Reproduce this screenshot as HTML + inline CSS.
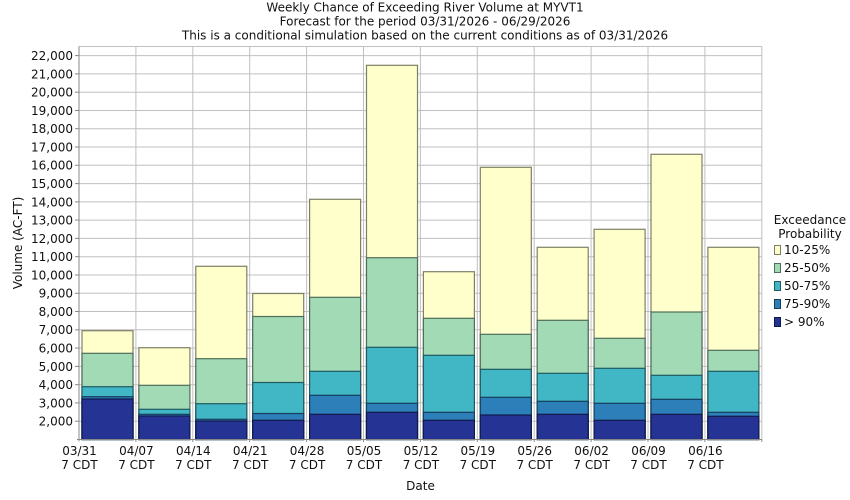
<!DOCTYPE html>
<html>
<head>
<meta charset="utf-8">
<style>
  html, body { margin: 0; padding: 0; background: #ffffff; }
  svg { display: block; }
  text { font-family: "DejaVu Sans", "Liberation Sans", sans-serif; font-size: 12px; fill: #111; }
</style>
</head>
<body>
<svg width="850" height="500" viewBox="0 0 850 500" xmlns="http://www.w3.org/2000/svg">
  <rect x="0" y="0" width="850" height="500" fill="#ffffff"/>

  <!-- Title -->
  <text x="425" y="11.5" text-anchor="middle">Weekly Chance of Exceeding River Volume at MYVT1</text>
  <text x="425" y="25.5" text-anchor="middle">Forecast for the period 03/31/2026 - 06/29/2026</text>
  <text x="425" y="39.5" text-anchor="middle">This is a conditional simulation based on the current conditions as of 03/31/2026</text>

  <!-- Plot background -->
  <rect x="79" y="46.5" width="682.8" height="393" fill="#ffffff"/>

  <!-- Horizontal gridlines -->
  <g stroke="#c0c0c0" stroke-width="1">
    <line x1="79" x2="761.8" y1="46.5" y2="46.5"/>
    <line x1="79" x2="761.8" y1="55.6" y2="55.6"/>
    <line x1="79" x2="761.8" y1="73.9" y2="73.9"/>
    <line x1="79" x2="761.8" y1="92.2" y2="92.2"/>
    <line x1="79" x2="761.8" y1="110.5" y2="110.5"/>
    <line x1="79" x2="761.8" y1="128.7" y2="128.7"/>
    <line x1="79" x2="761.8" y1="147.0" y2="147.0"/>
    <line x1="79" x2="761.8" y1="165.3" y2="165.3"/>
    <line x1="79" x2="761.8" y1="183.6" y2="183.6"/>
    <line x1="79" x2="761.8" y1="201.9" y2="201.9"/>
    <line x1="79" x2="761.8" y1="220.1" y2="220.1"/>
    <line x1="79" x2="761.8" y1="238.4" y2="238.4"/>
    <line x1="79" x2="761.8" y1="256.7" y2="256.7"/>
    <line x1="79" x2="761.8" y1="275.0" y2="275.0"/>
    <line x1="79" x2="761.8" y1="293.3" y2="293.3"/>
    <line x1="79" x2="761.8" y1="311.5" y2="311.5"/>
    <line x1="79" x2="761.8" y1="329.8" y2="329.8"/>
    <line x1="79" x2="761.8" y1="348.1" y2="348.1"/>
    <line x1="79" x2="761.8" y1="366.4" y2="366.4"/>
    <line x1="79" x2="761.8" y1="384.7" y2="384.7"/>
    <line x1="79" x2="761.8" y1="402.9" y2="402.9"/>
    <line x1="79" x2="761.8" y1="421.2" y2="421.2"/>
  </g>
  <!-- Vertical gridlines -->
  <g stroke="#c0c0c0" stroke-width="1">
    <line x1="135.9" x2="135.9" y1="46.5" y2="439.5"/>
    <line x1="192.8" x2="192.8" y1="46.5" y2="439.5"/>
    <line x1="249.7" x2="249.7" y1="46.5" y2="439.5"/>
    <line x1="306.6" x2="306.6" y1="46.5" y2="439.5"/>
    <line x1="363.5" x2="363.5" y1="46.5" y2="439.5"/>
    <line x1="420.4" x2="420.4" y1="46.5" y2="439.5"/>
    <line x1="477.3" x2="477.3" y1="46.5" y2="439.5"/>
    <line x1="534.2" x2="534.2" y1="46.5" y2="439.5"/>
    <line x1="591.1" x2="591.1" y1="46.5" y2="439.5"/>
    <line x1="648.0" x2="648.0" y1="46.5" y2="439.5"/>
    <line x1="704.9" x2="704.9" y1="46.5" y2="439.5"/>
    <line x1="761.8" x2="761.8" y1="46.5" y2="439.5"/>
  </g>

  <!-- Bars -->
  <g stroke-width="1.2">
    <!-- Bar 1 -->
    <rect x="82" y="330.7" width="51" height="108.8" fill="#ffffcc" stroke="#7f7f66"/>
    <rect x="82" y="353.3" width="51" height="86.2" fill="#a1dab4" stroke="#506d5a"/>
    <rect x="82" y="386.7" width="51" height="52.8" fill="#41b6c4" stroke="#205b62"/>
    <rect x="82" y="396.7" width="51" height="42.8" fill="#2c7fb8" stroke="#163f5c"/>
    <rect x="82" y="399.0" width="51" height="40.5" fill="#253494" stroke="#12194a"/>
    <!-- Bar 2 -->
    <rect x="138.9" y="347.7" width="51" height="91.8" fill="#ffffcc" stroke="#7f7f66"/>
    <rect x="138.9" y="385.3" width="51" height="54.2" fill="#a1dab4" stroke="#506d5a"/>
    <rect x="138.9" y="409.3" width="51" height="30.2" fill="#41b6c4" stroke="#205b62"/>
    <rect x="138.9" y="414.3" width="51" height="25.2" fill="#2c7fb8" stroke="#163f5c"/>
    <rect x="138.9" y="416.0" width="51" height="23.5" fill="#253494" stroke="#12194a"/>
    <!-- Bar 3 -->
    <rect x="195.8" y="266.3" width="51" height="173.2" fill="#ffffcc" stroke="#7f7f66"/>
    <rect x="195.8" y="358.7" width="51" height="80.8" fill="#a1dab4" stroke="#506d5a"/>
    <rect x="195.8" y="403.7" width="51" height="35.8" fill="#41b6c4" stroke="#205b62"/>
    <rect x="195.8" y="419.3" width="51" height="20.2" fill="#2c7fb8" stroke="#163f5c"/>
    <rect x="195.8" y="421.0" width="51" height="18.5" fill="#253494" stroke="#12194a"/>
    <!-- Bar 4 -->
    <rect x="252.7" y="293.5" width="51" height="146" fill="#ffffcc" stroke="#7f7f66"/>
    <rect x="252.7" y="316.5" width="51" height="123" fill="#a1dab4" stroke="#506d5a"/>
    <rect x="252.7" y="382.5" width="51" height="57" fill="#41b6c4" stroke="#205b62"/>
    <rect x="252.7" y="413.5" width="51" height="26" fill="#2c7fb8" stroke="#163f5c"/>
    <rect x="252.7" y="420.3" width="51" height="19.2" fill="#253494" stroke="#12194a"/>
    <!-- Bar 5 -->
    <rect x="309.6" y="199.3" width="51" height="240.2" fill="#ffffcc" stroke="#7f7f66"/>
    <rect x="309.6" y="297.3" width="51" height="142.2" fill="#a1dab4" stroke="#506d5a"/>
    <rect x="309.6" y="371.3" width="51" height="68.2" fill="#41b6c4" stroke="#205b62"/>
    <rect x="309.6" y="395.3" width="51" height="44.2" fill="#2c7fb8" stroke="#163f5c"/>
    <rect x="309.6" y="414.3" width="51" height="25.2" fill="#253494" stroke="#12194a"/>
    <!-- Bar 6 -->
    <rect x="366.5" y="65.3" width="51" height="374.2" fill="#ffffcc" stroke="#7f7f66"/>
    <rect x="366.5" y="257.7" width="51" height="181.8" fill="#a1dab4" stroke="#506d5a"/>
    <rect x="366.5" y="347.3" width="51" height="92.2" fill="#41b6c4" stroke="#205b62"/>
    <rect x="366.5" y="403.3" width="51" height="36.2" fill="#2c7fb8" stroke="#163f5c"/>
    <rect x="366.5" y="412.3" width="51" height="27.2" fill="#253494" stroke="#12194a"/>
    <!-- Bar 7 -->
    <rect x="423.4" y="271.7" width="51" height="167.8" fill="#ffffcc" stroke="#7f7f66"/>
    <rect x="423.4" y="318.3" width="51" height="121.2" fill="#a1dab4" stroke="#506d5a"/>
    <rect x="423.4" y="355.3" width="51" height="84.2" fill="#41b6c4" stroke="#205b62"/>
    <rect x="423.4" y="412.3" width="51" height="27.2" fill="#2c7fb8" stroke="#163f5c"/>
    <rect x="423.4" y="420.3" width="51" height="19.2" fill="#253494" stroke="#12194a"/>
    <!-- Bar 8 -->
    <rect x="480.3" y="167.3" width="51" height="272.2" fill="#ffffcc" stroke="#7f7f66"/>
    <rect x="480.3" y="334.3" width="51" height="105.2" fill="#a1dab4" stroke="#506d5a"/>
    <rect x="480.3" y="369.3" width="51" height="70.2" fill="#41b6c4" stroke="#205b62"/>
    <rect x="480.3" y="397.3" width="51" height="42.2" fill="#2c7fb8" stroke="#163f5c"/>
    <rect x="480.3" y="415.0" width="51" height="24.5" fill="#253494" stroke="#12194a"/>
    <!-- Bar 9 -->
    <rect x="537.2" y="247.3" width="51" height="192.2" fill="#ffffcc" stroke="#7f7f66"/>
    <rect x="537.2" y="320.3" width="51" height="119.2" fill="#a1dab4" stroke="#506d5a"/>
    <rect x="537.2" y="373.3" width="51" height="66.2" fill="#41b6c4" stroke="#205b62"/>
    <rect x="537.2" y="401.3" width="51" height="38.2" fill="#2c7fb8" stroke="#163f5c"/>
    <rect x="537.2" y="414.3" width="51" height="25.2" fill="#253494" stroke="#12194a"/>
    <!-- Bar 10 -->
    <rect x="594.1" y="229.3" width="51" height="210.2" fill="#ffffcc" stroke="#7f7f66"/>
    <rect x="594.1" y="338.3" width="51" height="101.2" fill="#a1dab4" stroke="#506d5a"/>
    <rect x="594.1" y="368.3" width="51" height="71.2" fill="#41b6c4" stroke="#205b62"/>
    <rect x="594.1" y="403.3" width="51" height="36.2" fill="#2c7fb8" stroke="#163f5c"/>
    <rect x="594.1" y="420.3" width="51" height="19.2" fill="#253494" stroke="#12194a"/>
    <!-- Bar 11 -->
    <rect x="651" y="154.3" width="51" height="285.2" fill="#ffffcc" stroke="#7f7f66"/>
    <rect x="651" y="312.0" width="51" height="127.5" fill="#a1dab4" stroke="#506d5a"/>
    <rect x="651" y="375.3" width="51" height="64.2" fill="#41b6c4" stroke="#205b62"/>
    <rect x="651" y="399.3" width="51" height="40.2" fill="#2c7fb8" stroke="#163f5c"/>
    <rect x="651" y="414.3" width="51" height="25.2" fill="#253494" stroke="#12194a"/>
    <!-- Bar 12 -->
    <rect x="707.9" y="247.3" width="51" height="192.2" fill="#ffffcc" stroke="#7f7f66"/>
    <rect x="707.9" y="350.3" width="51" height="89.2" fill="#a1dab4" stroke="#506d5a"/>
    <rect x="707.9" y="371.3" width="51" height="68.2" fill="#41b6c4" stroke="#205b62"/>
    <rect x="707.9" y="412.3" width="51" height="27.2" fill="#2c7fb8" stroke="#163f5c"/>
    <rect x="707.9" y="416.3" width="51" height="23.2" fill="#253494" stroke="#12194a"/>
  </g>

  <!-- Axes -->
  <g stroke="#888888" stroke-width="1">
    <line x1="79" x2="79" y1="46.5" y2="441.5"/>
    <line x1="77" x2="761.8" y1="439.5" y2="439.5"/>
  </g>
  <!-- Y tick marks -->
  <g stroke="#888888" stroke-width="1">
    <line x1="75" x2="79" y1="55.6" y2="55.6"/>
    <line x1="75" x2="79" y1="73.9" y2="73.9"/>
    <line x1="75" x2="79" y1="92.2" y2="92.2"/>
    <line x1="75" x2="79" y1="110.5" y2="110.5"/>
    <line x1="75" x2="79" y1="128.7" y2="128.7"/>
    <line x1="75" x2="79" y1="147.0" y2="147.0"/>
    <line x1="75" x2="79" y1="165.3" y2="165.3"/>
    <line x1="75" x2="79" y1="183.6" y2="183.6"/>
    <line x1="75" x2="79" y1="201.9" y2="201.9"/>
    <line x1="75" x2="79" y1="220.1" y2="220.1"/>
    <line x1="75" x2="79" y1="238.4" y2="238.4"/>
    <line x1="75" x2="79" y1="256.7" y2="256.7"/>
    <line x1="75" x2="79" y1="275.0" y2="275.0"/>
    <line x1="75" x2="79" y1="293.3" y2="293.3"/>
    <line x1="75" x2="79" y1="311.5" y2="311.5"/>
    <line x1="75" x2="79" y1="329.8" y2="329.8"/>
    <line x1="75" x2="79" y1="348.1" y2="348.1"/>
    <line x1="75" x2="79" y1="366.4" y2="366.4"/>
    <line x1="75" x2="79" y1="384.7" y2="384.7"/>
    <line x1="75" x2="79" y1="402.9" y2="402.9"/>
    <line x1="75" x2="79" y1="421.2" y2="421.2"/>
  </g>
  <!-- X tick marks -->
  <g stroke="#888888" stroke-width="1">
    <line x1="135.9" x2="135.9" y1="439.5" y2="442"/>
    <line x1="192.8" x2="192.8" y1="439.5" y2="442"/>
    <line x1="249.7" x2="249.7" y1="439.5" y2="442"/>
    <line x1="306.6" x2="306.6" y1="439.5" y2="442"/>
    <line x1="363.5" x2="363.5" y1="439.5" y2="442"/>
    <line x1="420.4" x2="420.4" y1="439.5" y2="442"/>
    <line x1="477.3" x2="477.3" y1="439.5" y2="442"/>
    <line x1="534.2" x2="534.2" y1="439.5" y2="442"/>
    <line x1="591.1" x2="591.1" y1="439.5" y2="442"/>
    <line x1="648.0" x2="648.0" y1="439.5" y2="442"/>
    <line x1="704.9" x2="704.9" y1="439.5" y2="442"/>
    <line x1="761.8" x2="761.8" y1="439.5" y2="442"/>
  </g>

  <!-- Y tick labels -->
  <g text-anchor="end">
    <text x="73" y="60">22,000</text>
    <text x="73" y="78.3">21,000</text>
    <text x="73" y="96.6">20,000</text>
    <text x="73" y="114.9">19,000</text>
    <text x="73" y="133.1">18,000</text>
    <text x="73" y="151.4">17,000</text>
    <text x="73" y="169.7">16,000</text>
    <text x="73" y="188">15,000</text>
    <text x="73" y="206.3">14,000</text>
    <text x="73" y="224.5">13,000</text>
    <text x="73" y="242.8">12,000</text>
    <text x="73" y="261.1">11,000</text>
    <text x="73" y="279.4">10,000</text>
    <text x="73" y="297.7">9,000</text>
    <text x="73" y="315.9">8,000</text>
    <text x="73" y="334.2">7,000</text>
    <text x="73" y="352.5">6,000</text>
    <text x="73" y="370.8">5,000</text>
    <text x="73" y="389.1">4,000</text>
    <text x="73" y="407.3">3,000</text>
    <text x="73" y="425.6">2,000</text>
  </g>

  <!-- Y axis title -->
  <text x="22" y="243" text-anchor="middle" transform="rotate(-90 22 243)">Volume (AC-FT)</text>

  <!-- X tick labels -->
  <g text-anchor="middle">
    <text x="79.5" y="455">03/31</text><text x="79.5" y="469">7 CDT</text>
    <text x="136.4" y="455">04/07</text><text x="136.4" y="469">7 CDT</text>
    <text x="193.3" y="455">04/14</text><text x="193.3" y="469">7 CDT</text>
    <text x="250.2" y="455">04/21</text><text x="250.2" y="469">7 CDT</text>
    <text x="307.1" y="455">04/28</text><text x="307.1" y="469">7 CDT</text>
    <text x="364" y="455">05/05</text><text x="364" y="469">7 CDT</text>
    <text x="420.9" y="455">05/12</text><text x="420.9" y="469">7 CDT</text>
    <text x="477.8" y="455">05/19</text><text x="477.8" y="469">7 CDT</text>
    <text x="534.7" y="455">05/26</text><text x="534.7" y="469">7 CDT</text>
    <text x="591.6" y="455">06/02</text><text x="591.6" y="469">7 CDT</text>
    <text x="648.5" y="455">06/09</text><text x="648.5" y="469">7 CDT</text>
    <text x="705.4" y="455">06/16</text><text x="705.4" y="469">7 CDT</text>
  </g>

  <!-- X axis title -->
  <text x="420.5" y="490" text-anchor="middle">Date</text>

  <!-- Legend -->
  <text x="810" y="224" text-anchor="middle">Exceedance</text>
  <text x="810" y="238" text-anchor="middle">Probability</text>
  <g stroke-width="1">
    <rect x="774.5" y="245.5" width="6" height="9" fill="#ffffcc" stroke="#7f7f66"/>
    <rect x="774.5" y="263.5" width="6" height="9" fill="#a1dab4" stroke="#506d5a"/>
    <rect x="774.5" y="281.5" width="6" height="9" fill="#41b6c4" stroke="#205b62"/>
    <rect x="774.5" y="299.5" width="6" height="9" fill="#2c7fb8" stroke="#163f5c"/>
    <rect x="774.5" y="317.5" width="6" height="9" fill="#253494" stroke="#12194a"/>
  </g>
  <text x="784" y="254">10-25%</text>
  <text x="784" y="272">25-50%</text>
  <text x="784" y="290">50-75%</text>
  <text x="784" y="308">75-90%</text>
  <text x="784" y="326">&gt; 90%</text>
</svg>
</body>
</html>
